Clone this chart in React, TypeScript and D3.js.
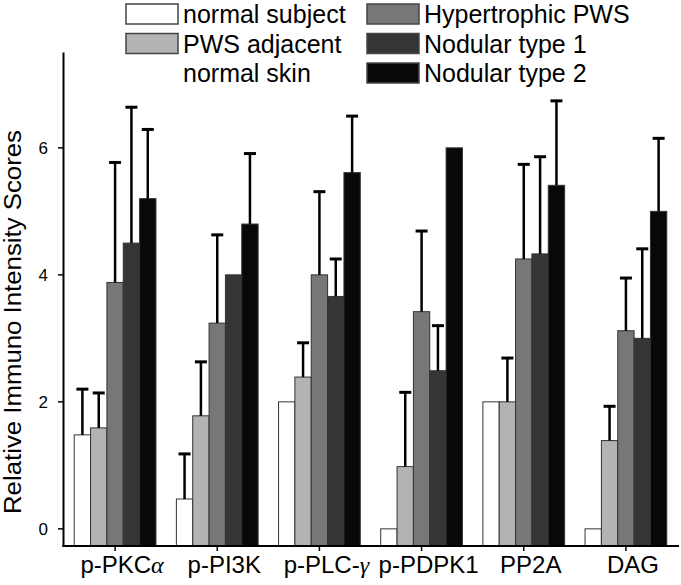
import * as d3 from 'd3';

const categories = ['p-PKCα', 'p-PI3K', 'p-PLC-γ', 'p-PDPK1', 'PP2A', 'DAG'];
const seriesNames = ['normal subject', 'PWS adjacent normal skin', 'Hypertrophic PWS', 'Nodular type 1', 'Nodular type 2'];
const seriesColors = ['#ffffff', '#b3b3b3', '#777777', '#353535', '#080808'];

const normalVals = [1.48, 0.47, 2.0, 0, 2.0, 0];
const normalErr = [0.72, 0.71, 0, 0, 0, 0];
const adjacentVals = [1.59, 1.78, 2.39, 0.98, 2.0, 1.39];
const adjacentErr = [0.55, 0.85, 0.54, 1.17, 0.69, 0.54];
const hyperVals = [3.88, 3.24, 4.0, 3.42, 4.25, 3.12];
const hyperErr = [1.89, 1.39, 1.31, 1.27, 1.49, 0.83];
const nod1Vals = [4.5, 4.0, 3.66, 2.49, 4.33, 3.0];
const nod1Err = [2.14, 0, 0.59, 0.71, 1.53, 1.41];
const nod2Vals = [5.2, 4.8, 5.61, 6.0, 5.41, 5.0];
const nod2Err = [1.09, 1.11, 0.89, 0, 1.33, 1.15];

const yTicks = [0, 2, 4, 6];

const allVals = [normalVals, adjacentVals, hyperVals, nod1Vals, nod2Vals];
const allErr = [normalErr, adjacentErr, hyperErr, nod1Err, nod2Err];

const width = 681;
const height = 585;
const font = '"Liberation Sans", Arial, sans-serif';

export default function App() {
  const axisLeft = 64;
  const axisBottom = 546;

  const x0 = d3
    .scaleBand<string>()
    .domain(categories)
    .range([axisLeft, 677])
    .paddingInner(0.2)
    .paddingOuter(0.1);

  const x1 = d3
    .scaleBand<number>()
    .domain(d3.range(seriesNames.length))
    .range([0, x0.bandwidth()]);

  const y = d3.scaleLinear().domain([-0.27, 7.5]).range([axisBottom, 52.6]);

  const capW = 12;

  // greek letters were set in a symbol font in the original
  const renderLabel = (c: string) => {
    const m = c.match(/^(.*?)([αγ])$/);
    if (!m) return c;
    return (
      <>
        {m[1]}
        <tspan fontFamily='"Liberation Serif", serif' fontStyle="italic">
          {m[2]}
        </tspan>
      </>
    );
  };

  const legendRows = [
    { col: 0, row: 0, s: 0, lines: ['normal subject'] },
    { col: 0, row: 1, s: 1, lines: ['PWS adjacent', 'normal skin'] },
    { col: 1, row: 0, s: 2, lines: ['Hypertrophic PWS'] },
    { col: 1, row: 1, s: 3, lines: ['Nodular type 1'] },
    { col: 1, row: 2, s: 4, lines: ['Nodular type 2'] },
  ];
  const colX = [126, 367];
  const rowStep = 29.5;

  return (
    <svg
      width={width}
      height={height}
      style={{ position: 'absolute', left: 0, top: 0, background: '#fff' }}
      fontFamily={font}
    >
      {/* bars */}
      {categories.map((c, ci) => (
        <g key={c} transform={`translate(${x0(c)},0)`}>
          {allVals.map((vals, si) => (
            <rect
              key={si}
              x={x1(si)}
              y={y(vals[ci])}
              width={x1.bandwidth()}
              height={axisBottom - y(vals[ci])}
              fill={seriesColors[si]}
              stroke="#333"
              strokeWidth={1}
            />
          ))}
          {allErr.map((errs, si) => {
            const e = errs[ci];
            if (!e) return null;
            const cx = (x1(si) || 0) + x1.bandwidth() / 2;
            const top = y(allVals[si][ci] + e);
            return (
              <g key={'e' + si} stroke="#000">
                <line x1={cx} x2={cx} y1={y(allVals[si][ci])} y2={top} strokeWidth={2.5} />
                <line x1={cx - capW / 2} x2={cx + capW / 2} y1={top} y2={top} strokeWidth={3} />
              </g>
            );
          })}
        </g>
      ))}

      {/* y axis */}
      <line x1={axisLeft - 0.5} x2={axisLeft - 0.5} y1={y(7.5)} y2={axisBottom + 1} stroke="#000" strokeWidth={2} />
      {yTicks.map((t) => (
        <g key={t}>
          <line x1={axisLeft - 6} x2={axisLeft} y1={y(t)} y2={y(t)} stroke="#000" strokeWidth={1.5} />
          <text x={48} y={y(t)} dy="0.36em" textAnchor="end" fontSize={17}>
            {t}
          </text>
        </g>
      ))}
      <text
        transform="translate(21,322) rotate(-90)"
        textAnchor="middle"
        fontSize={23}
        textLength={384}
        lengthAdjust="spacingAndGlyphs"
      >
        Relative Immuno Intensity Scores
      </text>

      {/* x axis */}
      <line x1={axisLeft - 1.5} x2={679} y1={axisBottom} y2={axisBottom} stroke="#000" strokeWidth={2} />
      {categories.map((c) => {
        const cx = (x0(c) || 0) + x0.bandwidth() / 2;
        return (
          <g key={c}>
            <line x1={cx} x2={cx} y1={axisBottom} y2={axisBottom + 5} stroke="#000" strokeWidth={1.5} />
            <text x={cx + 7} y={573} textAnchor="middle" fontSize={24}>
              {renderLabel(c)}
            </text>
          </g>
        );
      })}

      {/* legend */}
      {legendRows.map((r) => {
        const top = 4 + r.row * rowStep;
        return (
          <g key={r.s}>
            <rect
              x={colX[r.col]}
              y={top}
              width={52}
              height={20}
              fill={seriesColors[r.s]}
              stroke="#444"
              strokeWidth={1.5}
            />
            {r.lines.map((l, li) => (
              <text key={li} x={colX[r.col] + 57} y={top + 19 + li * rowStep} fontSize={25}>
                {l}
              </text>
            ))}
          </g>
        );
      })}
    </svg>
  );
}
